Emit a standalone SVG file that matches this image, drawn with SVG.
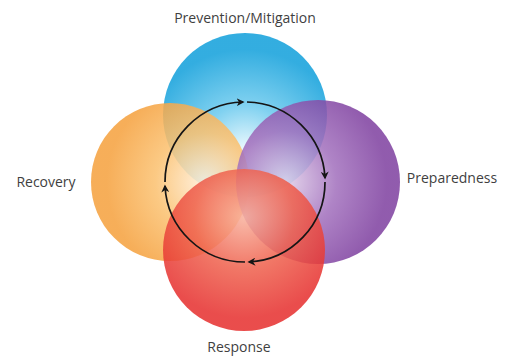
<svg xmlns="http://www.w3.org/2000/svg" width="506" height="356" viewBox="0 0 506 356">
<style>
.lbl{font-family:"Open Sans","Liberation Sans",sans-serif;font-size:14px;fill:#3f3f3f;text-anchor:middle}
.cyc{fill:none;stroke:#151515;stroke-width:1.7}
.c{opacity:0.86}
</style>
<defs>
<radialGradient id="gBlue" cx="0.5" cy="0.72" r="0.62">
<stop offset="0" stop-color="#eefafe"/><stop offset="0.45" stop-color="#6ccaee"/><stop offset="1" stop-color="#12a0db"/>
</radialGradient>
<radialGradient id="gOrange" cx="0.72" cy="0.5" r="0.62">
<stop offset="0" stop-color="#ffeed8"/><stop offset="0.5" stop-color="#fbc170"/><stop offset="1" stop-color="#f5a13e"/>
</radialGradient>
<radialGradient id="gPurple" cx="0.3" cy="0.5" r="0.62">
<stop offset="0" stop-color="#e0cfe9"/><stop offset="0.5" stop-color="#a270bd"/><stop offset="1" stop-color="#7f41a0"/>
</radialGradient>
<radialGradient id="gRed" cx="0.5" cy="0.3" r="0.62">
<stop offset="0" stop-color="#f8b09c"/><stop offset="0.5" stop-color="#ef624e"/><stop offset="1" stop-color="#e6302f"/>
</radialGradient>
<marker id="ah" viewBox="0 0 10 10" refX="8" refY="5" markerWidth="8" markerHeight="8" orient="auto" markerUnits="userSpaceOnUse">
<path d="M0,0 L10,5 L0,10 L3,5 Z" fill="#151515"/>
</marker>
</defs>
<rect width="506" height="356" fill="#ffffff"/>
<g id="prevention">
<circle class="c" cx="245" cy="115" r="82" fill="url(#gBlue)"/>
<text class="lbl" x="245" y="23">Prevention/Mitigation</text>
</g>
<g id="recovery">
<circle class="c" cx="170" cy="182" r="79" fill="url(#gOrange)"/>
<text class="lbl" x="46" y="187">Recovery</text>
</g>
<g id="preparedness">
<circle class="c" cx="318" cy="182" r="82" fill="url(#gPurple)"/>
<text class="lbl" x="452" y="183">Preparedness</text>
</g>
<g id="response">
<circle class="c" cx="244" cy="250" r="81" fill="url(#gRed)"/>
<text class="lbl" x="239" y="352">Response</text>
</g>
<g id="connectors">
<path class="cyc" d="M165,182 A80,80 0 0 1 243,102" marker-end="url(#ah)"/>
<path class="cyc" d="M247,102 A80,80 0 0 1 325,178" marker-end="url(#ah)"/>
<path class="cyc" d="M325,182 A80,80 0 0 1 249,262" marker-end="url(#ah)"/>
<path class="cyc" d="M245,262 A80,80 0 0 1 165,186" marker-end="url(#ah)"/>
</g>
</svg>
